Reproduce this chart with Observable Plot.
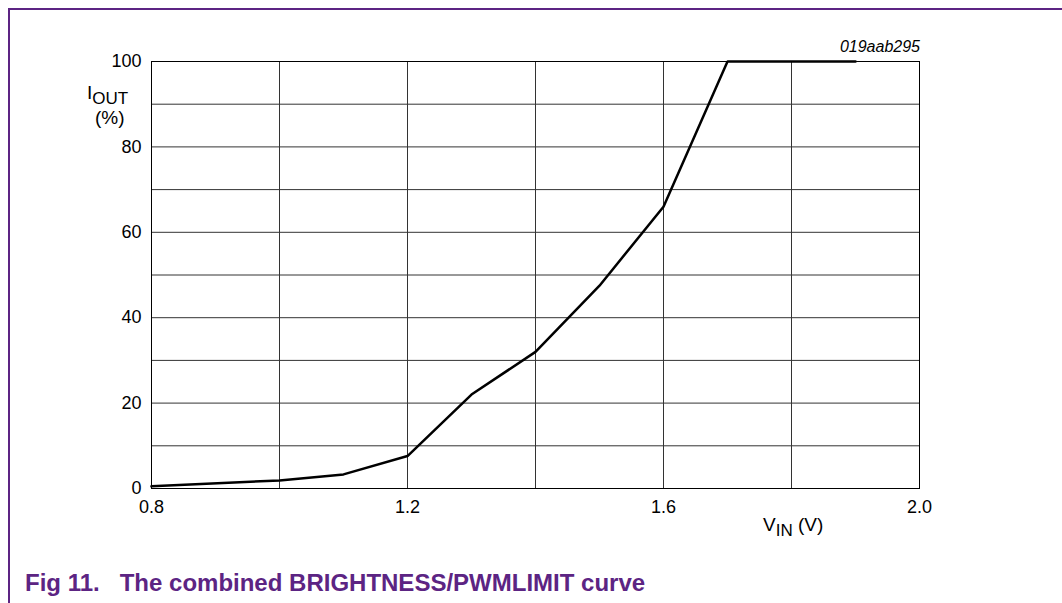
<!DOCTYPE html>
<html>
<head>
<meta charset="utf-8">
<script src="https://cdn.jsdelivr.net/npm/d3@7"></script>
<script src="https://cdn.jsdelivr.net/npm/@observablehq/plot@0.6"></script>
<style>
  html, body { margin: 0; padding: 0; background: #fff; }
  body { width: 1062px; height: 603px; position: relative; overflow: hidden; font-family: "Liberation Sans", Arial, sans-serif; }
  #frame { position: absolute; left: 8px; top: 8px; width: 1100px; height: 700px; border-left: 2px solid #5c2483; border-top: 2px solid #5c2483; box-sizing: border-box; }
  #chart { position: absolute; left: 0; top: 0; }
  .lbl { position: absolute; font-size: 19px; color: #000; white-space: nowrap; line-height: 1; }
  .lbl sub { font-size: 17px; vertical-align: -5px; line-height: 1; }
  #code { position: absolute; font-size: 16px; font-style: italic; right: 142px; top: 39px; }
  #caption { position: absolute; left: 25px; top: 569px; font-size: 24px; font-weight: bold; color: #5c2483; white-space: pre; }
</style>
</head>
<body>
<div id="frame"></div>
<div id="chart"></div>
<div class="lbl" style="left:87px; top:83px;">I<sub>OUT</sub></div>
<div class="lbl" style="left:95px; top:108px;">(%)</div>
<div class="lbl" style="left:763px; top:515px;">V<sub>IN</sub> (V)</div>
<div class="lbl" id="code">019aab295</div>
<div id="caption">Fig 11.   The combined BRIGHTNESS/PWMLIMIT curve</div>
<script>
const vin  = [0.8, 1.0, 1.1, 1.2, 1.3, 1.4, 1.5, 1.6, 1.7, 1.8, 1.9];
const iout = [0.5, 1.9, 3.3, 7.6, 22, 32, 47.5, 66, 100, 100, 100];
const xTicks = [0.8, 1.2, 1.6, 2.0];
const xGrid = [0.8, 1.0, 1.2, 1.4, 1.6, 1.8, 2.0];
const yTicks = [0, 20, 40, 60, 80, 100];
const yGrid = [0, 10, 20, 30, 40, 50, 60, 70, 80, 90, 100];

const data = vin.map((v, i) => ({v, i: iout[i]}));

const chart = Plot.plot({
  width: 1062,
  height: 560,
  marginTop: 61,
  marginBottom: 72,
  marginLeft: 151,
  marginRight: 143,
  style: {fontFamily: "'Liberation Sans', Arial, sans-serif", fontSize: "18px", background: "transparent", color: "#000"},
  x: {domain: [0.8, 2.0]},
  y: {domain: [0, 100]},
  marks: [
    Plot.ruleY(yGrid, {stroke: "#333", strokeWidth: 1}),
    Plot.ruleX(xGrid, {stroke: "#333", strokeWidth: 1}),
    Plot.frame({stroke: "#000", strokeWidth: 1}),
    Plot.axisX(xTicks, {tickFormat: d3.format(".1f"), tickSize: 0, tickPadding: 12, fontSize: 18, label: null}),
    Plot.axisY(yTicks, {tickSize: 0, tickPadding: 10, fontSize: 18, label: null}),
    Plot.line(data, {x: "v", y: "i", stroke: "#000", strokeWidth: 2.5, strokeLinejoin: "miter"})
  ]
});
document.getElementById("chart").appendChild(chart);
</script>
</body>
</html>
